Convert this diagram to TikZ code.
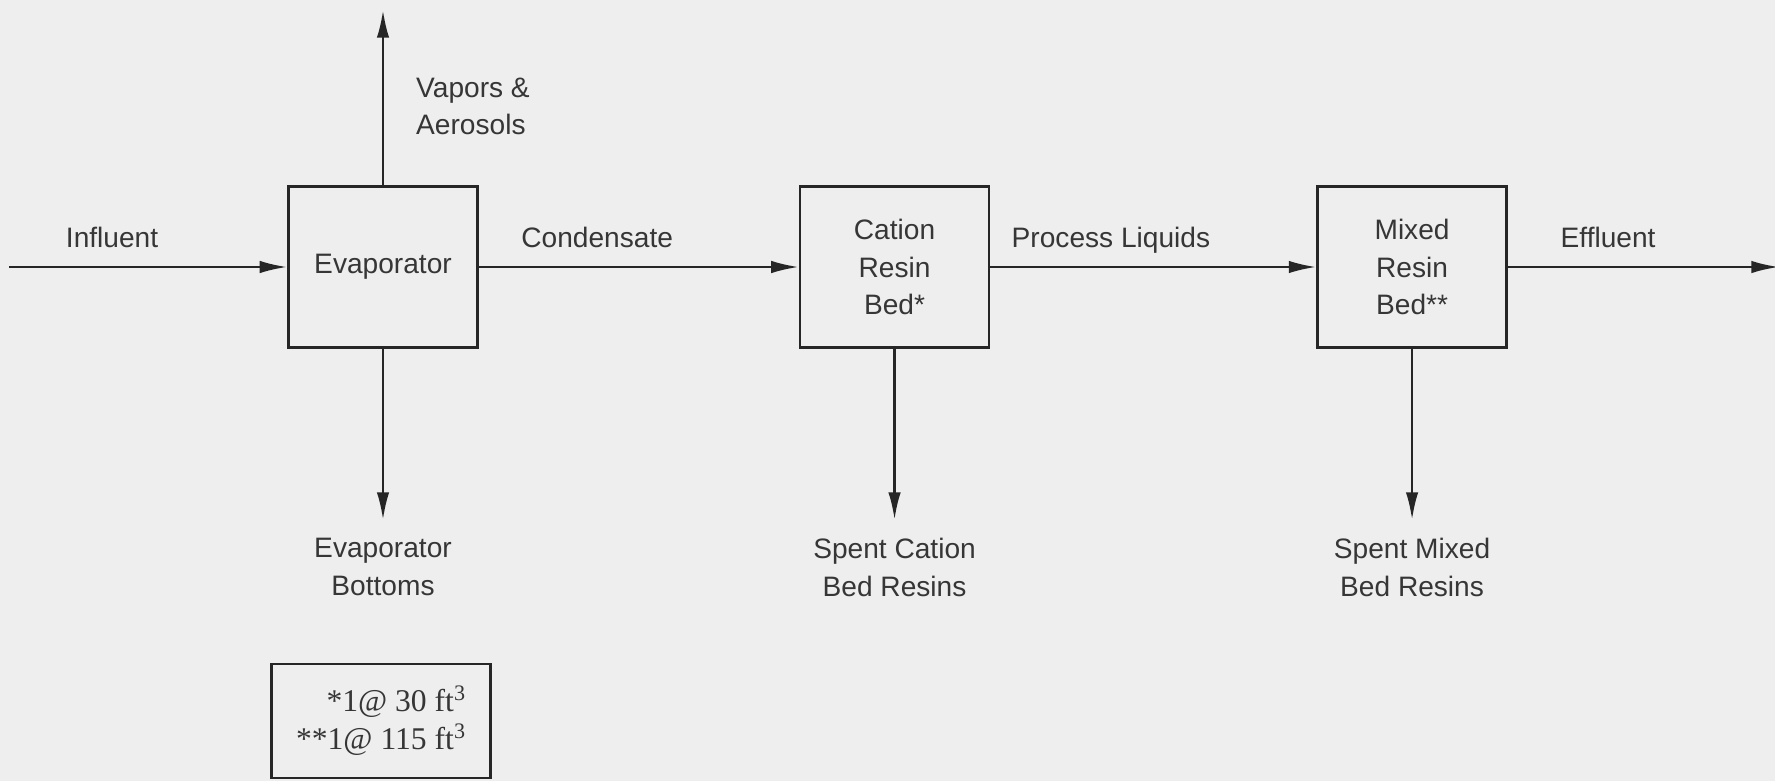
\documentclass[tikz,border=0pt]{standalone}
\usepackage{fontspec}
\setmainfont{Liberation Sans}
\newfontfamily\legendfont{Liberation Serif}
\definecolor{ScanPaper}{HTML}{EEEEEE}
\definecolor{ScanInk}{HTML}{262626}
\definecolor{ScanText}{HTML}{363636}
\usetikzlibrary{arrows.meta,positioning}
\tikzset{
  unit/.style={draw=ScanInk, align=center, minimum width=3.78cm, minimum height=3.22cm, inner sep=0pt, line width=1.5pt, text=ScanText, font=\fontsize{16}{21.5}\selectfont},
  note/.style={draw=ScanInk, align=right, minimum width=4.38cm, minimum height=2.28cm, line width=1.5pt, text=ScanText, font=\legendfont\fontsize{18}{21.5}\selectfont},
  flow/.style={-{Latex[length=5.5mm,width=2.5mm]}, line width=1.4pt, ScanInk},
  lbl/.style={inner sep=0pt, text=ScanText, font=\fontsize{16}{21.5}\selectfont},
  toplbl/.style={lbl, pos=0.37, anchor=base, yshift=0.4cm}
}

\begin{document}
\begin{tikzpicture}[x=0.02cm, y=-0.02cm, node distance=6.4cm]
    \fill[ScanPaper, use as bounding box] (0,0) rectangle (1775,781);

    \node[unit] (evap) at (383,267) {Evaporator};
    \node[unit, right=6.4cm of evap] (cation) {Cation\\Resin\\Bed*};
    \node[unit, right=6.52cm of cation] (mixed) {Mixed\\Resin\\Bed**};

    \coordinate[left=5.56cm of evap] (feed);
    \coordinate[right=5.42cm of mixed] (outlet);
    \coordinate[above=3.5cm of evap] (vent);
    \coordinate[below=3.42cm of evap] (bottoms);
    \coordinate[below=3.42cm of cation] (cationout);
    \coordinate[below=3.42cm of mixed] (mixedout);

    \draw[flow] (feed) -- node[toplbl] (influentlbl) {Influent} (evap);
    \draw[flow] (evap) -- node[toplbl] (condensatelbl) {Condensate} (cation);
    \draw[flow] (cation) -- node[toplbl] (processlbl) {Process Liquids} (mixed);
    \draw[flow] (mixed) -- node[toplbl] (effluentlbl) {Effluent} (outlet);
    \draw[flow] (evap) -- node[lbl, pos=0.45, right=0.64cm, align=left] (vaporlbl) {Vapors \&\\Aerosols} (vent);
    \draw[flow] (evap) -- (bottoms);
    \draw[flow] (cation) -- (cationout);
    \draw[flow] (mixed) -- (mixedout);

    \node[lbl, align=center, below=0.36cm of bottoms] (bottomslbl) {Evaporator\\Bottoms};
    \node[lbl, align=center, below=0.36cm of cationout] (cationlbl) {Spent Cation\\Bed Resins};
    \node[lbl, align=center, below=0.36cm of mixedout] (mixedlbl) {Spent Mixed\\Bed Resins};

    \node[note] (legend) at (381,721) {*1@ 30 ft\textsuperscript{3}\\**1@ 115 ft\textsuperscript{3}};
  \end{tikzpicture}
\end{document}
